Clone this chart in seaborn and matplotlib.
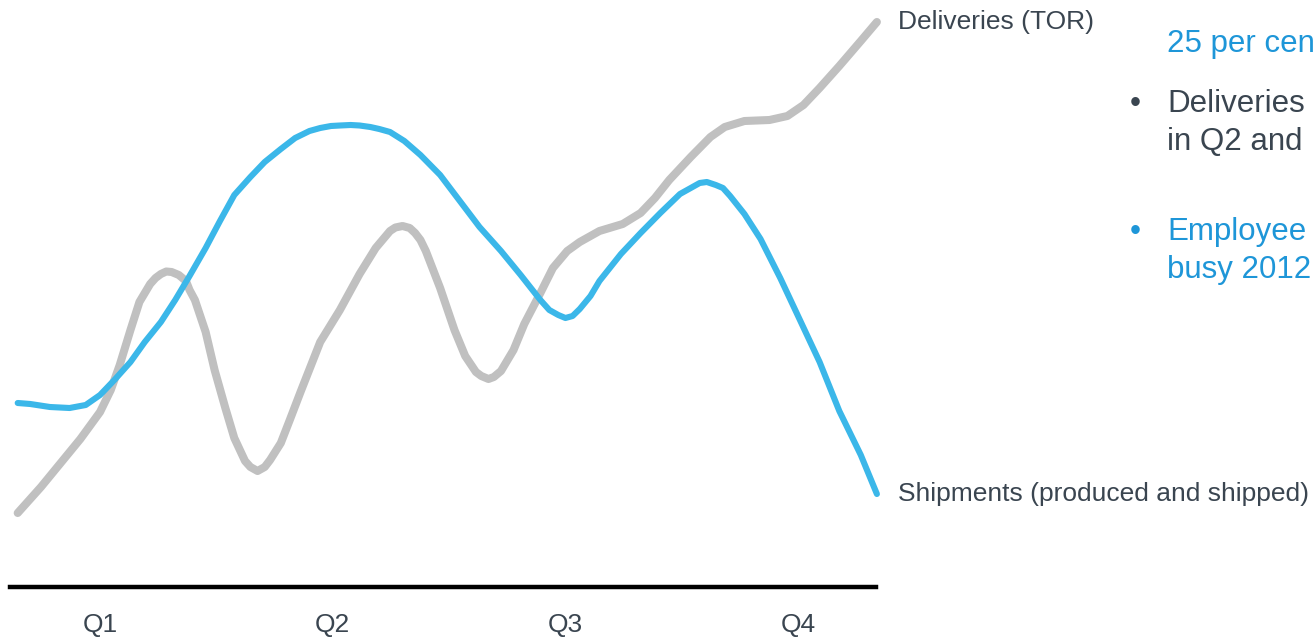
import matplotlib
matplotlib.use("Agg")
import matplotlib.pyplot as plt
import seaborn as sns
import pandas as pd

sns.set_theme(style="white")
plt.rcParams["font.family"] = ["Liberation Sans", "DejaVu Sans"]

# Week of the year and index level for each series
ship_week = [1.9, 2.6, 3.7, 4.8, 5.7, 6.5, 7.3, 8.2, 9.0, 9.9, 10.7, 11.5, 12.4,
             13.2, 14.0, 14.9, 15.7, 16.6, 17.4, 18.2, 18.8, 19.4, 19.9, 20.5,
             21.0, 21.6, 22.1, 22.7, 23.5, 24.4, 25.5, 26.6, 27.7, 28.9, 30.0,
             31.1, 31.6, 32.1, 32.5, 32.9, 33.3, 33.9, 34.4, 35.6, 36.7, 37.8,
             38.9, 39.5, 40.0, 40.4, 40.9, 41.3, 41.7, 42.5, 43.4, 44.5, 45.6,
             46.7, 47.8, 49.0, 49.9]
ship_level = [19.7, 19.6, 19.3, 19.2, 19.5, 20.5, 22.0, 23.8, 25.8, 27.8, 30.0,
              32.4, 35.2, 37.9, 40.5, 42.3, 43.8, 45.1, 46.2, 46.9, 47.2, 47.4,
              47.45, 47.5, 47.45, 47.3, 47.1, 46.8, 45.9, 44.5, 42.5, 39.9, 37.3,
              34.9, 32.5, 30.0, 29.0, 28.5, 28.2, 28.4, 29.1, 30.4, 31.9, 34.6,
              36.7, 38.7, 40.6, 41.2, 41.7, 41.8, 41.5, 41.2, 40.4, 38.6, 36.1,
              32.2, 28.0, 23.8, 18.9, 14.5, 10.6]

deliv_week = [1.9, 3.2, 4.3, 5.4, 6.5, 7.1, 7.6, 8.2, 8.7, 9.3, 9.6, 9.9, 10.2,
              10.5, 10.9, 11.3, 11.5, 11.8, 12.4, 12.9, 13.5, 14.0, 14.6, 14.9,
              15.3, 15.7, 16.0, 16.6, 17.1, 17.7, 18.8, 19.9, 21.0, 21.9, 22.7,
              23.0, 23.4, 23.8, 24.1, 24.4, 24.7, 25.5, 26.3, 26.9, 27.5, 27.8,
              28.2, 28.5, 28.9, 29.6, 30.2, 31.1, 31.8, 32.6, 33.3, 34.4, 35.7,
              36.7, 37.5, 38.3, 39.5, 40.6, 41.4, 42.5, 43.9, 44.9, 45.8, 46.7,
              47.8, 49.0, 49.9]
deliv_level = [8.7, 11.3, 13.7, 16.1, 18.8, 21.0, 23.5, 27.0, 29.8, 31.6, 32.2,
               32.6, 32.85, 32.8, 32.5, 31.9, 31.0, 30.0, 26.8, 23.0, 19.2, 16.2,
               13.9, 13.3, 12.9, 13.3, 14.0, 15.7, 18.0, 20.8, 25.8, 29.0, 32.6,
               35.2, 36.9, 37.25, 37.4, 37.2, 36.7, 36.0, 34.9, 31.2, 27.0, 24.4,
               22.8, 22.4, 22.1, 22.3, 22.9, 25.0, 27.6, 30.7, 33.2, 34.9, 35.8,
               36.9, 37.6, 38.7, 40.2, 42.0, 44.3, 46.3, 47.3, 47.9, 48.0, 48.4,
               49.5, 51.2, 53.4, 55.9, 57.8]

quarters = ["Q1", "Q2", "Q3", "Q4"]
quarter_mid_week = [6.5, 19.5, 32.5, 45.5]

ship_label = "Shipments (produced and shipped)"
deliv_label = "Deliveries (TOR)"

BLUE = "#3bb7e9"
GRAY = "#c0c0c0"
DARK = "#3a4550"
TEXT_BLUE = "#1e96d8"

ship = pd.DataFrame({"week": ship_week, "level": ship_level})
deliv = pd.DataFrame({"week": deliv_week, "level": deliv_level})

fig = plt.figure(figsize=(13.14, 6.38), dpi=100)
ax = fig.add_axes([10 / 1314, 51 / 638, 866 / 1314, 587 / 638])

sns.lineplot(data=deliv, x="week", y="level", ax=ax, color=GRAY, lw=5.8,
             sort=False, estimator=None, solid_capstyle="round",
             solid_joinstyle="round", clip_on=False)
sns.lineplot(data=ship, x="week", y="level", ax=ax, color=BLUE, lw=4.4,
             sort=False, estimator=None, solid_capstyle="round",
             solid_joinstyle="round", clip_on=False)

ax.set_xlim(1.47, 49.85)
ax.set_ylim(1.3, 60)

# End-of-line labels
ax.annotate(deliv_label, (deliv_week[-1], deliv_level[-1]), xytext=(15, 0),
            textcoords="offset points", va="center", ha="left",
            fontsize=19, color=DARK, annotation_clip=False)
ax.annotate(ship_label, (ship_week[-1], ship_level[-1]), xytext=(15, 0),
            textcoords="offset points", va="center", ha="left",
            fontsize=19, color=DARK, annotation_clip=False)

# Axis styling: only a heavy baseline with quarter labels
for side in ["top", "right", "left"]:
    ax.spines[side].set_visible(False)
ax.spines["bottom"].set_color("black")
ax.spines["bottom"].set_linewidth(3.2)
ax.set_yticks([])
ax.set_xticks(quarter_mid_week)
ax.set_xticklabels(quarters, fontsize=19, color=DARK)
ax.tick_params(axis="x", length=0, pad=19)
ax.set_xlabel("")
ax.set_ylabel("")
ax.patch.set_alpha(0)

# Commentary column on the right
fs = 22.5
fig.text(1167 / 1314, 1 - 44 / 638, "25 per cent", fontsize=fs, color=TEXT_BLUE,
         va="center", ha="left")
fig.text(1135 / 1314, 1 - 104 / 638, "•", fontsize=fs, color=DARK,
         va="center", ha="center")
fig.text(1167 / 1314, 1 - 104 / 638, "Deliveries", fontsize=fs, color=DARK,
         va="center", ha="left")
fig.text(1167 / 1314, 1 - 142 / 638, "in Q2 and", fontsize=fs, color=DARK,
         va="center", ha="left")
fig.text(1135 / 1314, 1 - 232 / 638, "•", fontsize=fs, color=TEXT_BLUE,
         va="center", ha="center")
fig.text(1167 / 1314, 1 - 232 / 638, "Employee", fontsize=fs, color=TEXT_BLUE,
         va="center", ha="left")
fig.text(1167 / 1314, 1 - 270 / 638, "busy 2012", fontsize=fs, color=TEXT_BLUE,
         va="center", ha="left")

fig.savefig("out.png", dpi=100)
